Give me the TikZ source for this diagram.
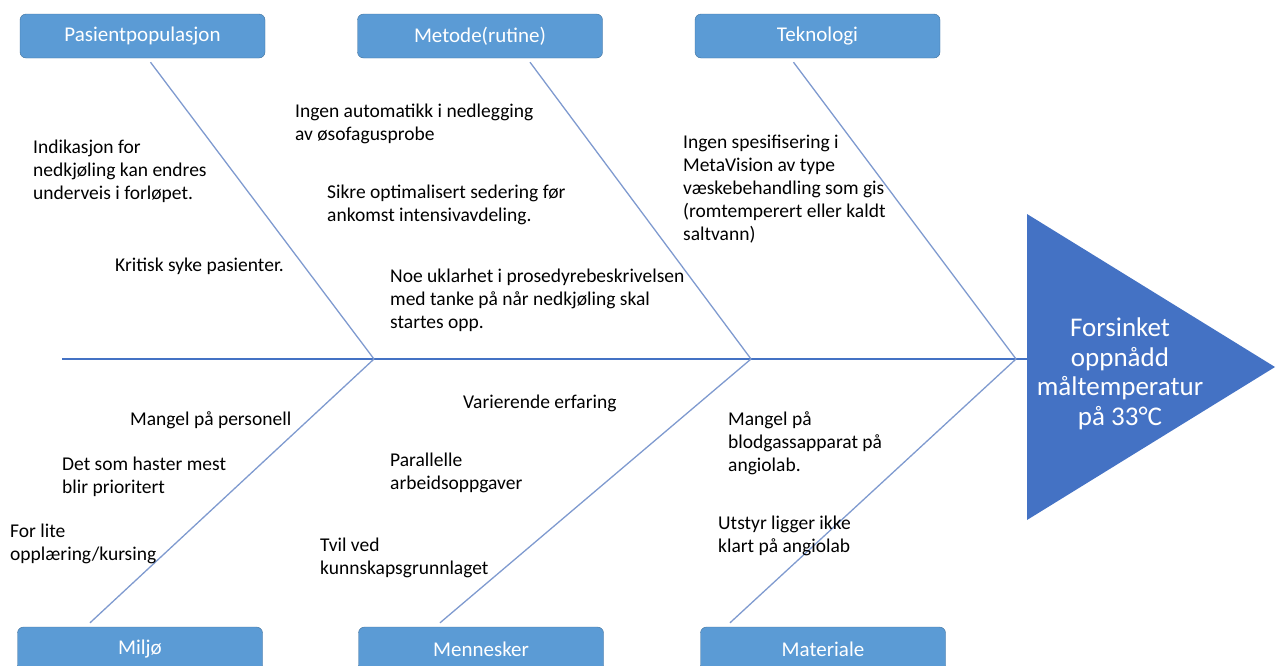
\documentclass[tikz,border=0pt]{standalone}
\usepackage{fontspec}
\setmainfont{Carlito}
\definecolor{boxblue}{HTML}{5B9BD5}
\definecolor{boxline}{HTML}{41719C}
\definecolor{headblue}{HTML}{4472C4}
\definecolor{bonecol}{HTML}{7F9ACF}

\begin{document}
\begin{tikzpicture}[x=1pt, y=-1pt,
    category/.style={rectangle, rounded corners=6pt, draw=boxline, fill=boxblue, text=white,
        minimum width=245pt, minimum height=44pt, font=\fontsize{21}{25}\selectfont},
    cause/.style={anchor=north west, inner sep=0pt, align=left, font=\fontsize{19.5}{23}\selectfont},
    bone/.style={draw=bonecol, line width=1.3pt}]
    \useasboundingbox (0,0) rectangle (1279,665);
    \clip (0,0) rectangle (1279,665);

    \node[style=category] (pasient)   at (142.5, 36) {Pasientpopulasjon};
    \node[style=category] (metode)    at (480, 36)   {Metode(rutine)};
    \node[style=category] (teknologi) at (817.5, 36) {Teknologi};
    \node[style=category] (miljo)     at (140, 649)  {Miljø};
    \node[style=category] (mennesker) at (481, 649)  {Mennesker};
    \node[style=category] (materiale) at (823, 649)  {Materiale};

    \coordinate (tail) at (62, 359);
    \coordinate (j1) at (374, 359);
    \coordinate (j2) at (751, 359);
    \coordinate (j3) at (1016, 359);
    \coordinate (head) at (1027, 359);

    \fill[headblue] (1027, 214) -- (1275, 367) -- (1027, 520) -- cycle;
    \node[text=white, align=center, font=\fontsize{27}{29.5}\selectfont] (effect) at (1120, 374)
        {Forsinket\\oppnådd\\måltemperatur\\på 33°C};

    \draw[headblue, line width=1.8pt] (tail) -- (head);
    \draw[style=bone]
        ([shift={(8,4)}]pasient.south) -- (j1)
        ([shift={(50,4)}]metode.south) -- (j2)
        ([shift={(-24,4)}]teknologi.south) -- (j3)
        ([shift={(-50,-4)}]miljo.north) -- (j1)
        ([shift={(-41,-4)}]mennesker.north) -- (j2)
        ([shift={(-93,-4)}]materiale.north) -- (j3)
    ;

    \node[style=cause] (indikasjon) at (33, 140)  {Indikasjon for\\nedkjøling kan endres\\underveis i forløpet.};
    \node[style=cause] (kritisk)    at (115, 258) {Kritisk syke pasienter.};
    \node[style=cause] (automatikk) at (295, 104) {Ingen automatikk i nedlegging\\av øsofagusprobe};
    \node[style=cause] (sedering)   at (327, 185) {Sikre optimalisert sedering før\\ankomst intensivavdeling.};
    \node[style=cause] (uklarhet)   at (390, 269) {Noe uklarhet i prosedyrebeskrivelsen\\med tanke på når nedkjøling skal\\startes opp.};
    \node[style=cause] (metavision) at (683, 135) {Ingen spesifisering i\\MetaVision av type\\væskebehandling som gis\\(romtemperert eller kaldt\\saltvann)};
    \node[style=cause] (personell)  at (130, 411) {Mangel på personell};
    \node[style=cause] (haster)     at (62, 457)  {Det som haster mest\\blir prioritert};
    \node[style=cause] (opplaering) at (10, 524)  {For lite\\opplæring/kursing};
    \node[style=cause] (erfaring)   at (463, 395) {Varierende erfaring};
    \node[style=cause] (parallelle) at (390, 453) {Parallelle\\arbeidsoppgaver};
    \node[style=cause] (tvil)       at (320, 538) {Tvil ved\\kunnskapsgrunnlaget};
    \node[style=cause] (blodgass)   at (728, 411) {Mangel på\\blodgassapparat på\\angiolab.};
    \node[style=cause] (utstyr)     at (718, 516) {Utstyr ligger ikke\\klart på angiolab};
\end{tikzpicture}
\end{document}
